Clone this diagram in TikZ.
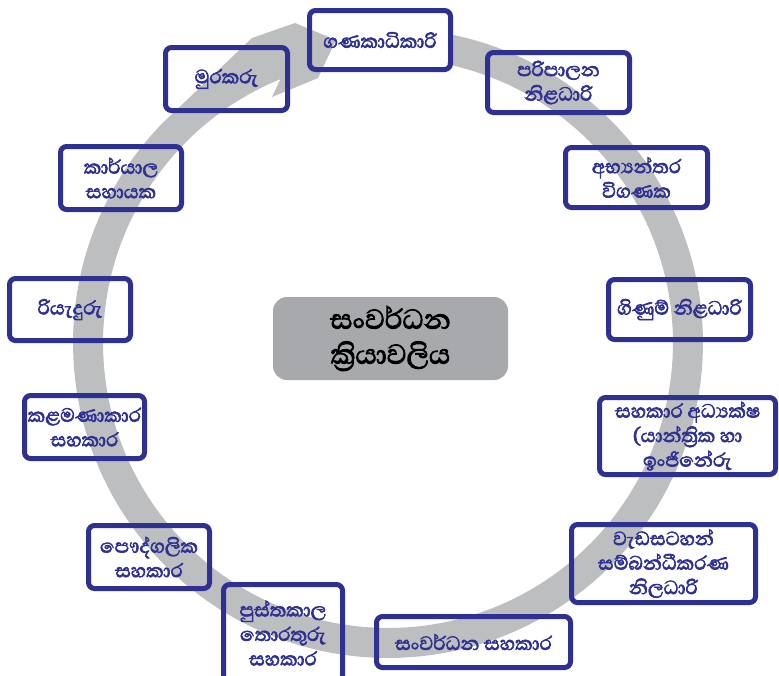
\documentclass[tikz,border=0pt]{standalone}
\usepackage{fontspec}
\newfontfamily\sinfont[Script=Sinhala, FakeBold=2.6]{Abhaya Libre}
\definecolor{navy}{HTML}{2E3192}
\definecolor{ringgray}{HTML}{BCBEC0}
\definecolor{hubgray}{HTML}{A7A9AC}
\tikzset{
  rolebox/.style={draw=navy, line width=5pt, rounded corners=6pt, text=navy,
    font=\sinfont\fontsize{24.5}{24.5}\selectfont, align=center, inner sep=0pt},
  hubbox/.style={fill=hubgray, rounded corners=14pt, text=black,
    font=\sinfont\fontsize{35}{35}\selectfont, align=center, inner sep=0pt},
}
\begin{document}
\begin{tikzpicture}[x=1pt,y=-1pt]
\useasboundingbox (0,0) rectangle (779,675);
% circular arrow
\fill[ringgray]
  plot[domain=-78:224, samples=150] ({388+315*cos(\x)},{343+315*sin(\x)})
  -- (252,38) -- (295,23) -- (336,40) -- (318,78) -- (272,97) -- (280,80)
  -- plot[domain=247.7:-78, samples=150] ({388+285*cos(\x)},{343+285*sin(\x)})
  -- cycle;
% centre
\node[hubbox, minimum width=235pt, minimum height=83pt] (hub) at (390.5,338.5)
  {සංවර්ධන\\ක්^^^^200dරියාවලිය};
% roles
\node[rolebox, minimum width=141pt, minimum height=59pt] (acc) at (380,40) {ගණකාධිකාරි};
\node[rolebox, minimum width=142pt, minimum height=60pt] (admin) at (558.5,82.5) {පරිපාලන\\නිළධාරි};
\node[rolebox, minimum width=142pt, minimum height=60pt] (audit) at (636.5,177.5) {අභ්^^^^200dයන්තර\\විගණක};
\node[rolebox, minimum width=142pt, minimum height=60pt] (accounts) at (679.5,309.5) {ගිණුම් නිළධාරි};
\node[rolebox, minimum width=176pt, minimum height=77pt] (direng) at (687.5,436) {සහකාර අධ්^^^^200dයක්ෂ\\(යාන්ත්^^^^200dරික හා\\ඉංජිනේරු};
\node[rolebox, minimum width=184pt, minimum height=78pt] (progcoord) at (663.5,563.5) {වැඩසටහන්\\සම්බන්ධීකරණ\\නිලධාරි};
\node[rolebox, minimum width=194pt, minimum height=51pt] (devasst) at (473.5,642) {සංවර්ධන සහකාර};
\node[rolebox, minimum width=119pt, minimum height=97pt] (libasst) at (283,633) {පුස්තකාල\\තොරතුරු\\සහකාර};
\node[rolebox, minimum width=121pt, minimum height=63pt] (persasst) at (149,557) {පෞද්ගලික\\සහකාර};
\node[rolebox, minimum width=120pt, minimum height=63pt] (mgmtasst) at (84.5,427) {කළමණාකාර\\සහකාර};
\node[rolebox, minimum width=121pt, minimum height=62pt] (driver) at (70,309.5) {රියැදුරු};
\node[rolebox, minimum width=121pt, minimum height=63pt] (officeasst) at (121,178) {කාර්යාල\\සහායක};
\node[rolebox, minimum width=122pt, minimum height=63pt] (watcher) at (226.5,79) {මුරකරු};
\end{tikzpicture}
\end{document}
